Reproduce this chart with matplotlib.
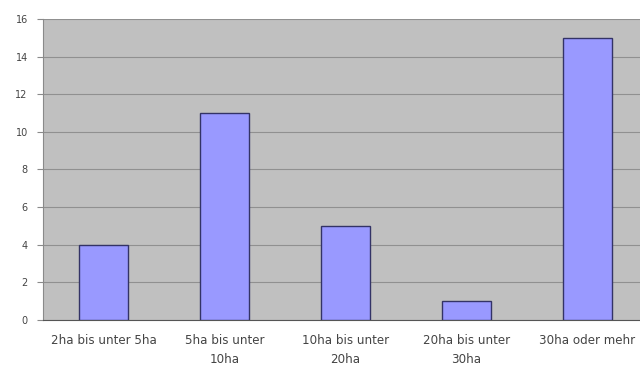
import matplotlib
matplotlib.use("Agg")
import matplotlib.pyplot as plt

categories = ["2ha bis unter 5ha", "5ha bis unter\n10ha", "10ha bis unter\n20ha", "20ha bis unter\n30ha", "30ha oder mehr"]
values = [4, 11, 5, 1, 15]
yticks = [0, 2, 4, 6, 8, 10, 12, 14, 16]

plt.rcParams['font.family'] = ['DejaVu Sans']
fig = plt.figure(figsize=(6.4, 3.65), dpi=100)
ax = fig.add_axes([43/640, 45/365, 605/640, 301/365])
ax.set_facecolor('#c0c0c0')
x = list(range(len(categories)))
ax.bar(x, values, width=0.4, color='#9999ff', edgecolor='#333366', linewidth=1.0, zorder=3)
ax.set_xlim(-0.5, len(categories) - 0.5)
ax.set_ylim(0, 16)
ax.set_yticks(yticks)
ax.set_yticklabels([str(t) for t in yticks], fontsize=7, color='#444444')
ax.set_xticks(x)
ax.set_xticklabels(categories, fontsize=8.6, color='#444444', linespacing=1.6)
ax.yaxis.grid(True, color='#909090', linewidth=0.8, zorder=1)
for s in ['top', 'right']:
    ax.spines[s].set_visible(False)
ax.spines['left'].set_color('#8a8a8a')
ax.spines['bottom'].set_color('#555555')
ax.tick_params(axis='x', length=0, pad=10)
ax.tick_params(axis='y', length=4, color='#8a8a8a', pad=7)
fig.savefig("out.png", dpi=100)
